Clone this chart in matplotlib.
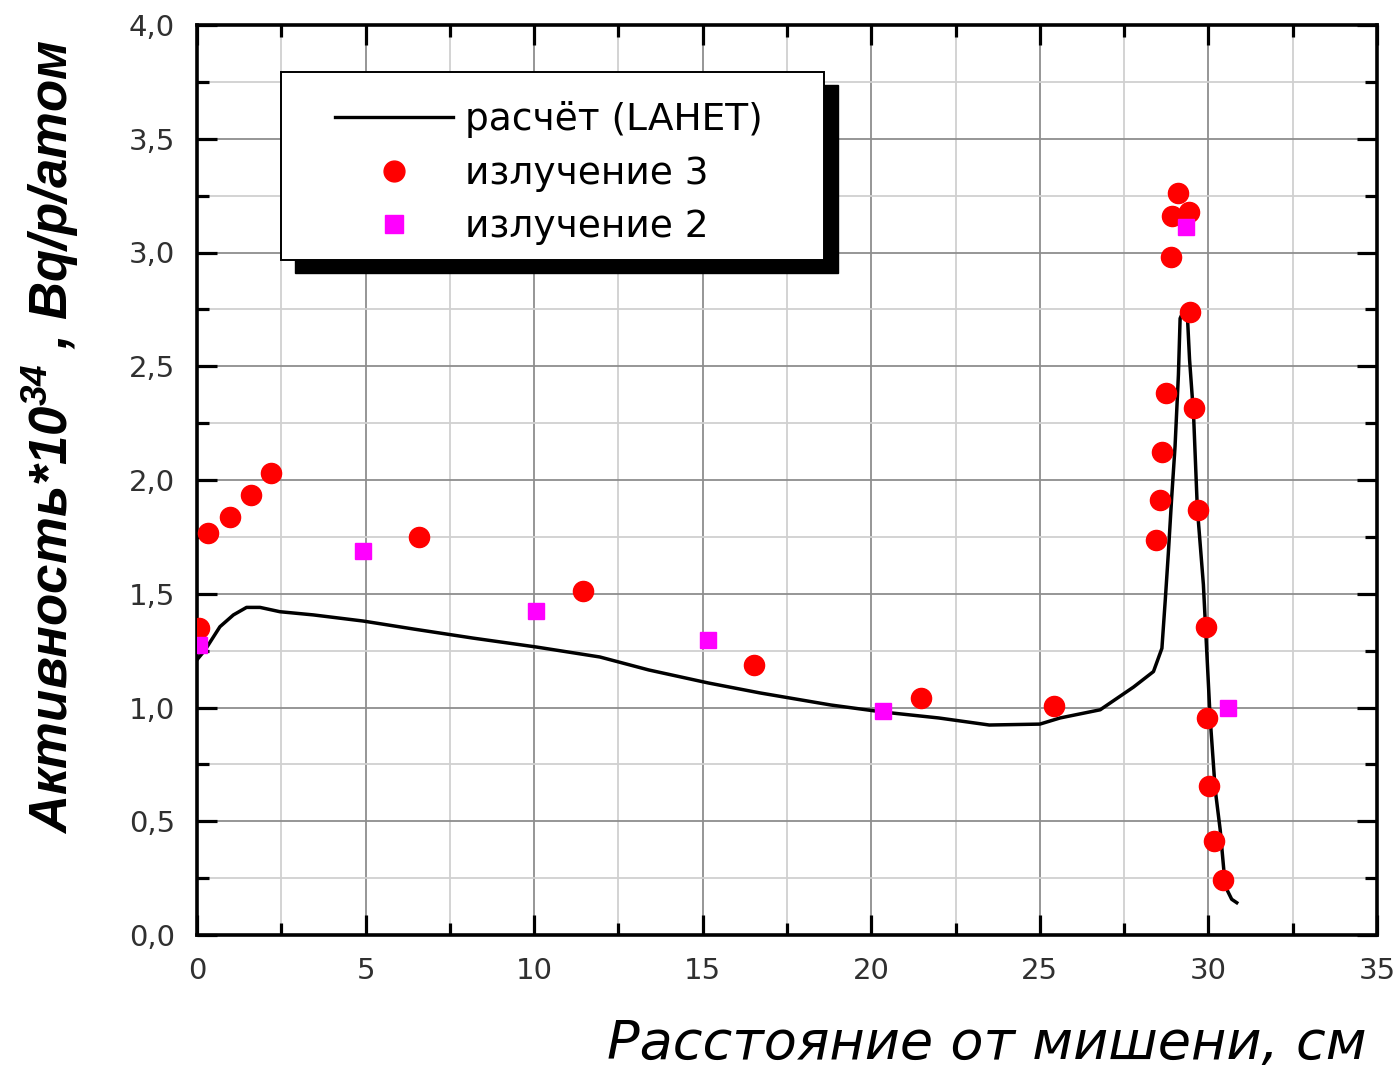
import matplotlib
matplotlib.use("Agg")
import matplotlib.pyplot as plt
from matplotlib.lines import Line2D
from matplotlib.patches import Rectangle
from matplotlib.ticker import MultipleLocator, FixedLocator, FixedFormatter

# ---------------- data ----------------
lahet_x = [0.0, 0.24, 0.68, 1.08, 1.47, 1.87, 2.46, 3.45, 4.93, 6.42, 8.19, 10.06,
           11.95, 13.4, 15.16, 16.7, 18.8, 20.35, 22.0, 23.5, 25.0, 25.6, 26.79,
           27.78, 28.37, 28.62, 28.72, 28.81, 28.91, 29.01, 29.11, 29.16, 29.26,
           29.38, 29.44, 29.56, 29.67, 29.85, 29.95, 30.05, 30.2, 30.35, 30.5,
           30.69, 30.84]
lahet_y = [1.21, 1.253, 1.355, 1.407, 1.44, 1.44, 1.421, 1.407, 1.38, 1.345, 1.305,
           1.266, 1.222, 1.165, 1.108, 1.064, 1.011, 0.98, 0.954, 0.923, 0.927,
           0.954, 0.99, 1.09, 1.158, 1.26, 1.473, 1.676, 1.923, 2.148, 2.463, 2.71,
           2.744, 2.71, 2.53, 2.283, 1.878, 1.541, 1.248, 0.956, 0.641, 0.461,
           0.214, 0.157, 0.142]

irr3_x = [0.05, 0.33, 0.98, 1.6, 2.2, 6.59, 11.45, 16.52, 21.48, 25.42,
          29.11, 28.91, 29.41, 28.89, 29.46, 28.74, 29.56, 28.62, 28.55, 29.69,
          28.45, 29.93, 29.97, 30.03, 30.17, 30.43]
irr3_y = [1.35, 1.767, 1.837, 1.934, 2.03, 1.75, 1.512, 1.187, 1.042, 1.007,
          3.261, 3.160, 3.178, 2.98, 2.737, 2.382, 2.317, 2.121, 1.91, 1.867,
          1.736, 1.354, 0.956, 0.657, 0.412, 0.241]

irr2_x = [0.05, 4.92, 10.06, 15.16, 20.35, 29.34, 30.59]
irr2_y = [1.275, 1.688, 1.424, 1.297, 0.985, 3.111, 1.0]

xticks = [0, 5, 10, 15, 20, 25, 30, 35]
xtick_labels = ["0", "5", "10", "15", "20", "25", "30", "35"]
yticks = [0.0, 0.5, 1.0, 1.5, 2.0, 2.5, 3.0, 3.5, 4.0]
ytick_labels = ["0,0", "0,5", "1,0", "1,5", "2,0", "2,5", "3,0", "3,5", "4,0"]

legend_labels = ["расчёт (LAHET)", "излучение 3", "излучение 2"]
xlabel = "Расстояние от мишени, см"
ylabel = r"Активность*10$^{34}$ , Bq/p/атом"

# ---------------- style ----------------
plt.rcParams['font.family'] = ['DejaVu Sans']
plt.rcParams['mathtext.fontset'] = 'custom'
plt.rcParams['mathtext.rm'] = 'Liberation Sans:bold:italic'
plt.rcParams['mathtext.it'] = 'Liberation Sans:bold:italic'
plt.rcParams['mathtext.bf'] = 'Liberation Sans:bold:italic'

fig = plt.figure(figsize=(13.98, 10.71), dpi=100)
ax = fig.add_axes([197/1398, 136/1071, 1180/1398, 910/1071])

ax.set_xlim(0, 35)
ax.set_ylim(0, 4.0)

ax.plot(lahet_x, lahet_y, color='black', lw=2.5, zorder=3)
ax.plot(irr3_x, irr3_y, 'o', color='#ff0000', ms=14.5, mec='#ff0000', zorder=4)
ax.plot(irr2_x, irr2_y, 's', color='#ff00ff', ms=12, mec='#ff00ff', zorder=4)

ax.xaxis.set_major_locator(FixedLocator(xticks))
ax.xaxis.set_major_formatter(FixedFormatter(xtick_labels))
ax.yaxis.set_major_locator(FixedLocator(yticks))
ax.yaxis.set_major_formatter(FixedFormatter(ytick_labels))
ax.xaxis.set_minor_locator(MultipleLocator(2.5))
ax.yaxis.set_minor_locator(MultipleLocator(0.25))

ax.set_axisbelow(True)
ax.grid(which='major', color='#8e8e8e', lw=1.3)
ax.grid(which='minor', color='#d0d0d0', lw=1.3)

ax.tick_params(which='both', direction='in', top=True, right=True,
               width=2.3, color='black')
ax.tick_params(which='major', length=14.5, pad=16, labelsize=21, labelcolor='#303030')
ax.tick_params(which='minor', length=8.5)
for sp in ax.spines.values():
    sp.set_linewidth(2.6)

ax.set_xlabel(xlabel, fontsize=39, style='oblique', family='DejaVu Sans',
              ha='right', va='top')
ax.xaxis.set_label_coords((1367-197)/1180, (935-1018)/910)

ax.set_ylabel(ylabel, fontsize=38, fontweight='bold', style='italic',
              family=['Liberation Sans Narrow', 'Liberation Sans'],
              fontstretch='condensed', ha='center', va='center')
ax.yaxis.set_label_coords((50-197)/1180, (935-437)/910)

# legend frame with solid black shadow
fx0, fx1 = (281-197)/1180, (824-197)/1180
fy0, fy1 = (935-260)/910, (935-72)/910
dx, dy = 14/1180, 13/910
ax.add_patch(Rectangle((fx0+dx, fy0-dy), fx1-fx0, fy1-fy0, transform=ax.transAxes,
                       facecolor='black', edgecolor='black', zorder=6, clip_on=False))
ax.add_patch(Rectangle((fx0, fy0), fx1-fx0, fy1-fy0, transform=ax.transAxes,
                       facecolor='white', edgecolor='black', lw=1.4, zorder=7,
                       clip_on=False))

handles = [Line2D([], [], color='black', lw=2.4),
           Line2D([], [], ls='none', marker='o', color='#ff0000', ms=15),
           Line2D([], [], ls='none', marker='s', color='#ff00ff', ms=13)]
leg = ax.legend(handles, legend_labels, loc='upper left',
                bbox_to_anchor=((335-197)/1180, (935-101)/910),
                frameon=False, fontsize=27, borderpad=0, borderaxespad=0,
                handlelength=3.15, handletextpad=0.31, labelspacing=0.47)
leg.set_zorder(8)

fig.savefig("out.png", dpi=100)
